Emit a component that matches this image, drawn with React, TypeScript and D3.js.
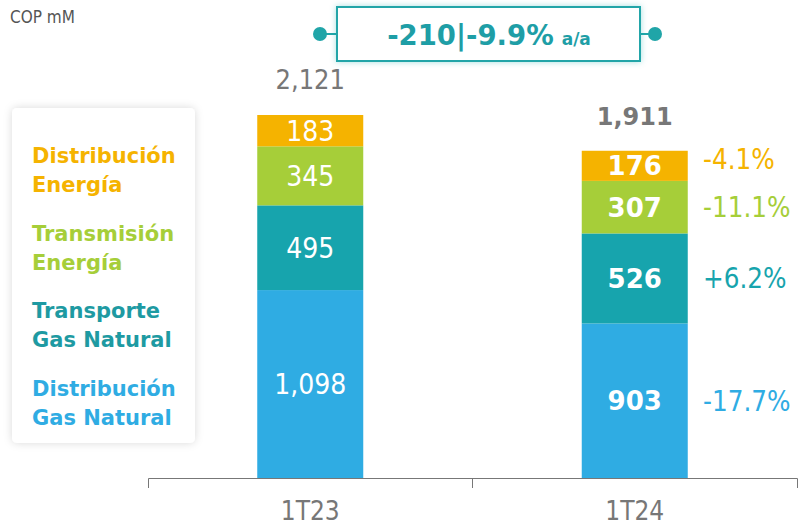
import React from "react";
import * as d3 from "d3";

const categories = ["1T23", "1T24"];
const seriesNames = ["Distribución Gas Natural", "Transporte Gas Natural", "Transmisión Energía", "Distribución Energía"];
const legendLines = [["Distribución", "Energía"], ["Transmisión", "Energía"], ["Transporte", "Gas Natural"], ["Distribución", "Gas Natural"]];
const colors = ["#2FACE3", "#17A4AD", "#A6CE39", "#F5B300"];
const legendColors = ["#F5B300", "#A6CE39", "#1E9AA2", "#2FACE3"];
const values1T23 = [1098, 495, 345, 183];
const values1T24 = [903, 526, 307, 176];
const totals = [2121, 1911];
const changes = ["-17.7%", "+6.2%", "-11.1%", "-4.1%"];

export default function App() {
  const W = 800, H = 527;
  const x = d3.scaleBand().domain(categories).range([148, 797]).paddingInner(0).paddingOuter(0);
  const y = d3.scaleLinear().domain([0, 2121]).range([478, 115]);
  const barW = 106;
  const data = [values1T23, values1T24];
  const fmt = d3.format(",");
  const font = "Verdana, 'DejaVu Sans', sans-serif";
  const condFont = "'DejaVu Sans Condensed', 'DejaVu Sans', sans-serif";

  return (
    <svg width={W} height={H} style={{ position: "absolute", left: 0, top: 0, background: "#fff" }}>
      <defs>
        <filter id="sh" x="-20%" y="-20%" width="140%" height="140%">
          <feDropShadow dx="0" dy="0" stdDeviation="4" floodColor="#000" floodOpacity="0.15" />
        </filter>
        <filter id="glow" x="-20%" y="-40%" width="140%" height="180%">
          <feDropShadow dx="0" dy="0" stdDeviation="3" floodColor="#20A5A8" floodOpacity="0.35" />
        </filter>
      </defs>
      <text x={10} y={23} fontFamily={condFont} fontSize={17} fill="#555">COP mM</text>

      {/* badge */}
      <line x1={320} x2={655} y1={34} y2={34} stroke="#20A5A8" strokeWidth={2} />
      <circle cx={320} cy={34} r={7} fill="#20A5A8" />
      <circle cx={655} cy={34} r={7} fill="#20A5A8" />
      <rect x={337} y={7} width={303} height={54} fill="#fff" stroke="#20A5A8" strokeWidth={2} filter="url(#glow)" />
      <text x={489} y={45} textAnchor="middle" fontFamily={font} fontWeight="bold" fill="#1E9EA6">
        <tspan fontSize={27.5}>-210|-9.9%</tspan>
        <tspan fontSize={17} dx={8}>a/a</tspan>
      </text>

      {/* legend */}
      <rect x={12} y={108} width={183} height={335} rx={5} fill="#fff" filter="url(#sh)" />
      {legendLines.map((lines, i) => (
        <text key={i} x={32} fontFamily={font} fontWeight="bold" fontSize={21} fill={legendColors[i]}>
          {lines.map((l, j) => (
            <tspan key={j} x={32} y={163 + i * 77.5 + j * 29}>{l}</tspan>
          ))}
        </text>
      ))}

      {/* bars */}
      {data.map((vals, ci) => {
        const cx = (x(categories[ci]) as number) + x.bandwidth() / 2;
        let acc = 0;
        const bold = ci === 1;
        return (
          <g key={ci}>
            {vals.map((v, si) => {
              const y0 = y(acc);
              acc += v;
              const y1 = y(acc);
              return (
                <g key={si}>
                  <rect x={cx - barW / 2} y={y1} width={barW} height={y0 - y1} fill={colors[si]} />
                  <text x={cx} y={(y0 + y1) / 2} dy="0.36em" textAnchor="middle" fill="#fff"
                    fontFamily={bold ? font : condFont} fontWeight={bold ? "bold" : "normal"} fontSize={bold ? 26 : 28}>
                    {fmt(v)}
                  </text>
                  {ci === 1 && (
                    <text x={703} y={(y0 + y1) / 2 + (si === 3 ? -7 : 0)} dy="0.36em" fill={colors[si]} fontFamily={condFont} fontSize={27.5}>
                      {changes[si]}
                    </text>
                  )}
                </g>
              );
            })}
            <text x={cx} y={y(totals[ci]) - 26} textAnchor="middle" fill="#777"
              fontFamily={bold ? font : condFont} fontWeight={bold ? "bold" : "normal"} fontSize={bold ? 24 : 27}>
              {fmt(totals[ci])}
            </text>
          </g>
        );
      })}

      {/* axis */}
      <g stroke="#777" strokeWidth={1} fill="none">
        <line x1={148.5} x2={797.5} y1={478.5} y2={478.5} />
        {[148.5, 472.5, 797.5].map((t, i) => (
          <line key={i} x1={t} x2={t} y1={478.5} y2={488} />
        ))}
      </g>
      {categories.map((c) => (
        <text key={c} x={(x(c) as number) + x.bandwidth() / 2} y={520} textAnchor="middle" fontFamily={condFont} fontSize={26} fill="#777">
          {c}
        </text>
      ))}
    </svg>
  );
}
